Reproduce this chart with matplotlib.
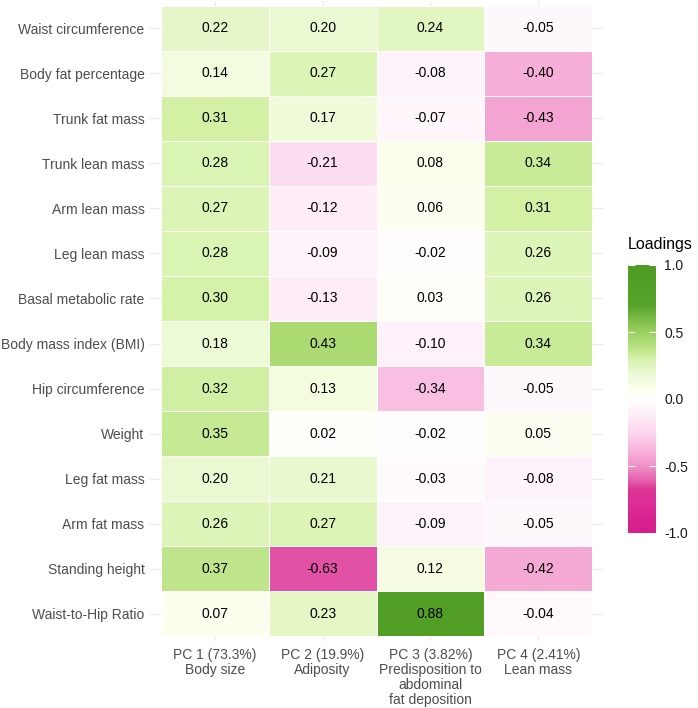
import numpy as np
import matplotlib
matplotlib.use("Agg")
import matplotlib.pyplot as plt
from matplotlib.colors import LinearSegmentedColormap

plt.rcParams['font.family'] = ['Liberation Sans', 'DejaVu Sans']

# data
traits = ["Waist circumference", "Body fat percentage", "Trunk fat mass",
          "Trunk lean mass", "Arm lean mass", "Leg lean mass",
          "Basal metabolic rate", "Body mass index (BMI)", "Hip circumference",
          "Weight", "Leg fat mass", "Arm fat mass", "Standing height",
          "Waist-to-Hip Ratio"]
components = ["PC 1 (73.3%)\nBody size", "PC 2 (19.9%)\nAdiposity",
              "PC 3 (3.82%)\nPredisposition to\nabdominal\nfat deposition",
              "PC 4 (2.41%)\nLean mass"]
pc1 = [0.22, 0.14, 0.31, 0.28, 0.27, 0.28, 0.30, 0.18, 0.32, 0.35, 0.20, 0.26, 0.37, 0.07]
pc2 = [0.20, 0.27, 0.17, -0.21, -0.12, -0.09, -0.13, 0.43, 0.13, 0.02, 0.21, 0.27, -0.63, 0.23]
pc3 = [0.24, -0.08, -0.07, 0.08, 0.06, -0.02, 0.03, -0.10, -0.34, -0.02, -0.03, -0.09, 0.12, 0.88]
pc4 = [-0.05, -0.40, -0.43, 0.34, 0.31, 0.26, 0.26, 0.34, -0.05, 0.05, -0.08, -0.05, -0.42, -0.04]
loadings = np.array([pc1, pc2, pc3, pc4]).T

stops = [(-1.00, "#D81B8C"), (-0.68, "#DC3596"), (-0.55, "#EB7FBE"),
         (-0.40, "#F6B0DA"), (-0.25, "#FCD6EE"), (-0.10, "#FEF1F9"),
         (0.00, "#FFFFFF"), (0.08, "#FBFEEA"), (0.20, "#EAF9D2"),
         (0.30, "#D6F2AA"), (0.40, "#B5E07C"), (0.55, "#8CC653"),
         (0.70, "#58A32A"), (1.00, "#4E9A22")]
cmap = LinearSegmentedColormap.from_list(
    "loadings", [((v + 1) / 2, c) for v, c in stops])

fig = plt.figure(figsize=(6.98, 7.08), dpi=100)
ax = fig.add_axes([150 / 698, 1 - 641 / 708, 453 / 698, 640 / 708])

n_rows, n_cols = loadings.shape
for i in range(n_rows):
    ax.axhline(i, color="#EBEBEB", lw=0.8, zorder=0)
for j in range(n_cols):
    ax.axvline(j, color="#EBEBEB", lw=0.8, zorder=0)

mesh = ax.pcolormesh(np.arange(n_cols + 1) - 0.5, np.arange(n_rows + 1) - 0.5, loadings,
                     cmap=cmap, vmin=-1, vmax=1, edgecolors="white", linewidth=0.6, zorder=1)

for i in range(n_rows):
    for j in range(n_cols):
        ax.text(j, i, f"{loadings[i, j]:.2f}", ha="center", va="center",
                fontsize=10, color="black", zorder=2)

ax.set_xlim(-0.6, n_cols - 0.4)
ax.set_ylim(n_rows - 0.4, -0.6)
ax.set_xticks(range(n_cols))
ax.set_xticklabels(components, fontsize=10, color="#4D4D4D", linespacing=1.1)
ax.set_yticks(range(n_rows))
ax.set_yticklabels(traits, fontsize=10, color="#4D4D4D")
ax.tick_params(axis="x", length=0, pad=5)
ax.tick_params(axis="y", length=0, pad=4)
for s in ax.spines.values():
    s.set_visible(False)

cax = fig.add_axes([628 / 698, 1 - 533 / 708, 28 / 698, 268 / 708])
cbar = fig.colorbar(mesh, cax=cax, ticks=[-1, -0.5, 0, 0.5, 1])
cbar.outline.set_visible(False)
cbar.ax.set_yticklabels(["-1.0", "-0.5", "0.0", "0.5", "1.0"], fontsize=10, color="#1A1A1A")
cbar.ax.tick_params(color="white", direction="in", length=5, width=0.8, left=True, right=True, pad=6)
fig.text(628 / 698, 1 - 245 / 708, "Loadings", fontsize=11.5, ha="left", va="center")

fig.savefig("out.png", dpi=100)
